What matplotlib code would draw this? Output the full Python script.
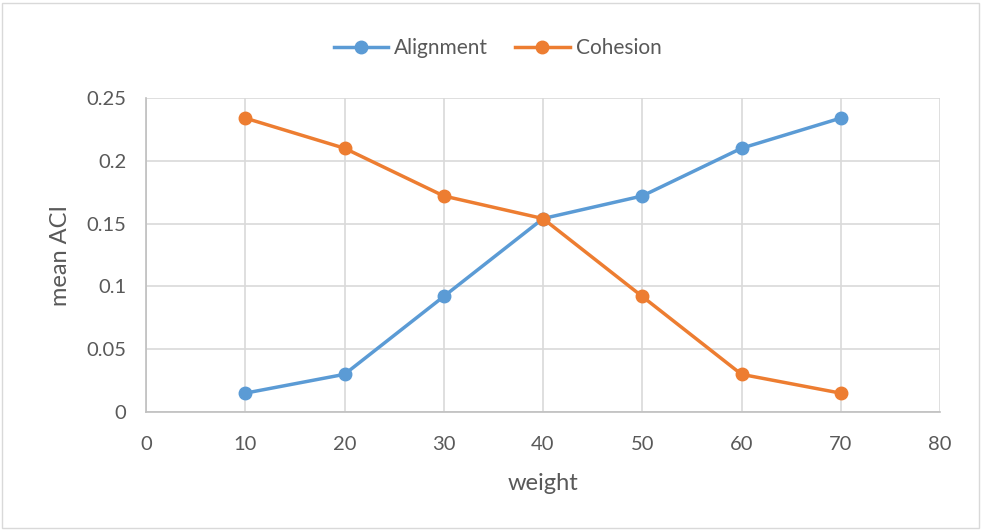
import matplotlib.pyplot as plt
from matplotlib.patches import Rectangle

plt.rcParams['font.family'] = ['Lato', 'DejaVu Sans']

# data
weight = [10, 20, 30, 40, 50, 60, 70]
alignment = [0.015, 0.030, 0.092, 0.154, 0.172, 0.210, 0.234]
cohesion = [0.234, 0.210, 0.172, 0.154, 0.092, 0.030, 0.015]
x_ticks = [0, 10, 20, 30, 40, 50, 60, 70, 80]
y_ticks = [0, 0.05, 0.1, 0.15, 0.2, 0.25]
y_labels = ['0', '0.05', '0.1', '0.15', '0.2', '0.25']

W, H = 982, 530
fig = plt.figure(figsize=(W / 100, H / 100), dpi=100)
ax = fig.add_axes([146 / W, (H - 412) / H, (940 - 146) / W, (412 - 98) / H])

# outer border like the spreadsheet chart area
fig.patches.append(Rectangle((2 / W, 2 / H), (W - 5) / W, (H - 5) / H,
                             transform=fig.transFigure, fill=False,
                             edgecolor='#d9d9d9', linewidth=1))

blue = '#5b9bd5'
orange = '#ed7d31'
ax.plot(weight, alignment, color=blue, lw=2.5, marker='o', ms=9, label='Alignment', zorder=3)
ax.plot(weight, cohesion, color=orange, lw=2.5, marker='o', ms=9, label='Cohesion', zorder=3)

ax.set_xlim(0, 80)
ax.set_ylim(0, 0.25)
ax.set_xticks(x_ticks)
ax.set_yticks(y_ticks)
ax.set_yticklabels(y_labels)
ax.grid(True, color='#d9d9d9', lw=1.2)
ax.set_axisbelow(True)
ax.tick_params(length=0, labelsize=14.5, colors='#595959')
ax.tick_params(axis='x', pad=17)
ax.tick_params(axis='y', pad=14)
for side in ['top', 'right']:
    ax.spines[side].set_visible(False)
for side in ['left', 'bottom']:
    ax.spines[side].set_color('#bfbfbf')
    ax.spines[side].set_linewidth(1.2)

ax.set_xlabel('weight', fontsize=17, color='#595959', labelpad=15)
ax.set_ylabel('mean ACI', fontsize=17, color='#595959', labelpad=11)

ax.legend(loc='upper center', bbox_to_anchor=(0.443, 1.25), ncol=2, frameon=False,
          fontsize=15, labelcolor='#595959', handlelength=2.6, columnspacing=1.3,
          handletextpad=0.3)

fig.savefig('out.png', dpi=100)
